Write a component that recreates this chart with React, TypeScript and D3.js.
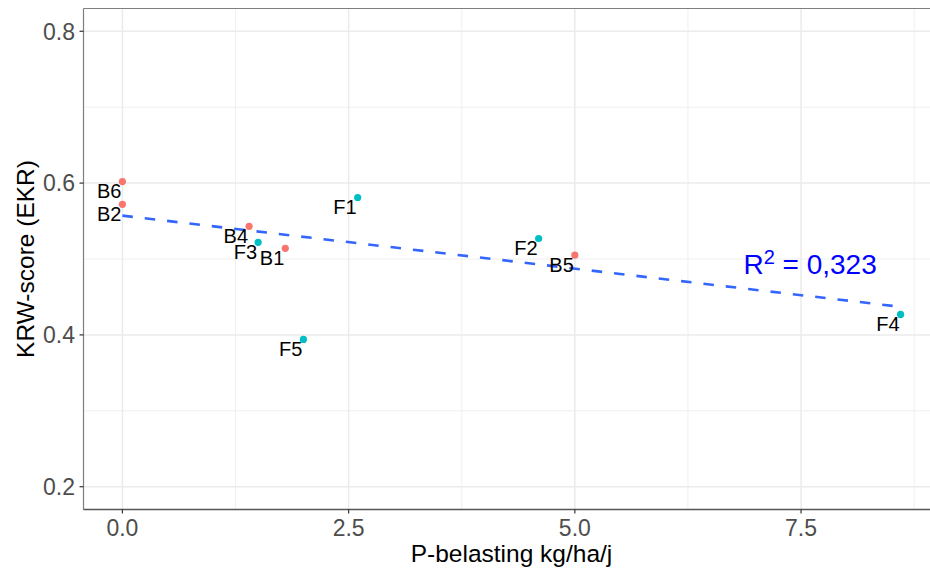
import React from "react";
import * as d3 from "d3";

// Sites: P-load (kg/ha/yr) against KRW score (EKR)
const siteNames = ["B6", "B2", "B4", "F3", "B1", "F5", "F1", "F2", "B5", "F4"];
const pLoad = [0, 0, 1.4, 1.5, 1.8, 2.0, 2.6, 4.6, 5.0, 8.6];
const krwScore = [0.602, 0.572, 0.543, 0.522, 0.514, 0.394, 0.581, 0.527, 0.505, 0.427];
const groups = ["B", "B", "B", "F", "B", "F", "F", "F", "B", "F"];

const groupColors: Record<string, string> = { B: "#F8766D", F: "#00BFC4" };

const xMajorTicks = [0, 2.5, 5, 7.5];
const xMinorTicks = [1.25, 3.75, 6.25, 8.75];
const yMajorTicks = [0.2, 0.4, 0.6, 0.8];
const yMinorTicks = [0.3, 0.5, 0.7];

const r2Label = "0,323";
const r2Pos = { x: 7.6, y: 0.494 };

const xTitle = "P-belasting kg/ha/j";
const yTitle = "KRW-score (EKR)";

const W = 930;
const H = 572;
const FONT = "'Liberation Sans', Arial, Helvetica, sans-serif";

export default function App() {
  const panel = { left: 83.5, top: 8.5, right: 939.5, bottom: 509.5 };

  const x = d3.scaleLinear().domain([-0.43, 9.03]).range([panel.left, panel.right]);
  const y = d3.scaleLinear().domain([0.17, 0.83]).range([panel.bottom, panel.top]);

  // Least-squares fit over the observed points
  const mx = d3.mean(pLoad)!;
  const my = d3.mean(krwScore)!;
  const sxy = d3.sum(pLoad, (v, i) => (v - mx) * (krwScore[i] - my));
  const sxx = d3.sum(pLoad, (v) => (v - mx) ** 2);
  const slope = sxy / sxx;
  const intercept = my - slope * mx;
  const [x0, x1] = d3.extent(pLoad) as [number, number];
  const fitLine = d3
    .line<number>()
    .x((v) => x(v))
    .y((v) => y(intercept + slope * v))([x0, x1]);

  const fmt = d3.format(".1f");

  return (
    <svg
      width={W}
      height={H}
      style={{ position: "absolute", left: 0, top: 0, background: "#fff" }}
      fontFamily={FONT}
    >
      <rect x={0} y={0} width={W} height={H} fill="#fff" />

      {/* grid */}
      {xMinorTicks.map((t) => (
        <line key={"xm" + t} x1={x(t)} x2={x(t)} y1={panel.top} y2={panel.bottom} stroke="#EBEBEB" strokeWidth={0.8} />
      ))}
      {yMinorTicks.map((t) => (
        <line key={"ym" + t} y1={y(t)} y2={y(t)} x1={panel.left} x2={panel.right} stroke="#EBEBEB" strokeWidth={0.8} />
      ))}
      {xMajorTicks.map((t) => (
        <line key={"xM" + t} x1={x(t)} x2={x(t)} y1={panel.top} y2={panel.bottom} stroke="#EBEBEB" strokeWidth={1.5} />
      ))}
      {yMajorTicks.map((t) => (
        <line key={"yM" + t} y1={y(t)} y2={y(t)} x1={panel.left} x2={panel.right} stroke="#EBEBEB" strokeWidth={1.5} />
      ))}

      {/* fitted trend */}
      <path d={fitLine ?? ""} fill="none" stroke="#3366FF" strokeWidth={2.6} strokeDasharray="10.5 12" />

      {/* points */}
      {pLoad.map((v, i) => (
        <circle key={"p" + i} cx={x(v)} cy={y(krwScore[i])} r={3.6} fill={groupColors[groups[i]]} />
      ))}

      {/* point labels */}
      {pLoad.map((v, i) => (
        <text
          key={"l" + i}
          x={x(v) - 1}
          y={y(krwScore[i]) + 16.5}
          fontSize={20}
          textAnchor="end"
          fill="#000"
        >
          {siteNames[i]}
        </text>
      ))}

      {/* R² annotation */}
      <text x={x(r2Pos.x)} y={y(r2Pos.y) + 10.5} fontSize={28} fill="#0000FF" textAnchor="middle">
        <tspan>R</tspan>
        <tspan fontSize={20} dy={-10}>2</tspan>
        <tspan dy={10}>{" = " + r2Label}</tspan>
      </text>

      {/* panel border and axis lines */}
      <line x1={panel.left} x2={panel.right} y1={panel.top} y2={panel.top} stroke="#7F7F7F" strokeWidth={1.2} />
      <line x1={panel.left} x2={panel.left} y1={panel.top} y2={panel.bottom} stroke="#7F7F7F" strokeWidth={1.2} />
      <line x1={panel.left} x2={panel.right} y1={panel.bottom} y2={panel.bottom} stroke="#555" strokeWidth={1.4} />

      {/* x axis ticks */}
      {xMajorTicks.map((t) => (
        <g key={"xt" + t}>
          <line x1={x(t)} x2={x(t)} y1={panel.bottom} y2={panel.bottom + 4} stroke="#333" strokeWidth={1.2} />
          <text x={x(t)} y={535.5} fontSize={23} textAnchor="middle" fill="#4D4D4D">
            {fmt(t)}
          </text>
        </g>
      ))}

      {/* y axis ticks */}
      {yMajorTicks.map((t) => (
        <g key={"yt" + t}>
          <line x1={panel.left - 4} x2={panel.left} y1={y(t)} y2={y(t)} stroke="#333" strokeWidth={1.2} />
          <text x={75} y={y(t)} dy="0.36em" fontSize={23} textAnchor="end" fill="#4D4D4D">
            {fmt(t)}
          </text>
        </g>
      ))}

      {/* axis titles */}
      <text x={511.5} y={562} fontSize={24.5} textAnchor="middle" fill="#000">
        {xTitle}
      </text>
      <text
        transform={`translate(33.5, ${(panel.top + panel.bottom) / 2}) rotate(-90)`}
        fontSize={24.5}
        textAnchor="middle"
        fill="#000"
      >
        {yTitle}
      </text>
    </svg>
  );
}
